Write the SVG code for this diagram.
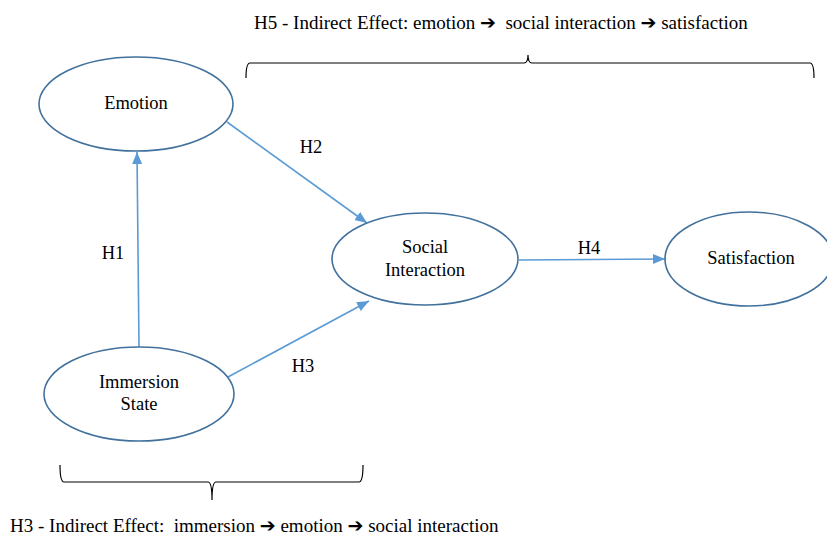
<svg xmlns="http://www.w3.org/2000/svg" width="827" height="535" viewBox="0 0 827 535">
<style>
  .node { fill: #ffffff; stroke: #41719C; stroke-width: 1.6; }
  .lbl { font-family: "Liberation Serif", "DejaVu Serif", serif; font-size: 18.5px; fill: #000; text-anchor: middle; }
  .note { font-family: "Liberation Serif", "DejaVu Sans", serif; font-size: 19px; fill: #000; }
  .ar { font-weight: bold; }
  .arr { stroke: #5B9BD5; stroke-width: 1.6; fill: none; marker-end: url(#ah); }
  .brace { stroke: #000; stroke-width: 1.2; fill: none; }
</style>
<defs>
  <marker id="ah" markerUnits="userSpaceOnUse" markerWidth="14" markerHeight="12" refX="12" refY="5" orient="auto">
    <path d="M0,0 L12,5 L0,10 Z" fill="#5B9BD5"/>
  </marker>
</defs>
<rect width="827" height="535" fill="#ffffff"/>

<g id="connectors">
  <line class="arr" x1="139" y1="347" x2="137" y2="152"/>
  <line class="arr" x1="227" y1="122" x2="367" y2="223"/>
  <line class="arr" x1="228" y1="377" x2="369" y2="301"/>
  <line class="arr" x1="519" y1="260" x2="665" y2="259"/>
  <text class="lbl" x="113" y="259">H1</text>
  <text class="lbl" x="311" y="153">H2</text>
  <text class="lbl" x="303" y="372">H3</text>
  <text class="lbl" x="589" y="254">H4</text>
</g>

<g id="emotion">
  <ellipse class="node" cx="136" cy="104" rx="97" ry="47"/>
  <text class="lbl" x="136" y="109">Emotion</text>
</g>
<g id="social-interaction">
  <ellipse class="node" cx="425" cy="259" rx="93" ry="46"/>
  <text class="lbl" x="425" y="253">Social</text>
  <text class="lbl" x="425" y="276">Interaction</text>
</g>
<g id="satisfaction">
  <ellipse class="node" cx="749" cy="259" rx="84" ry="47"/>
  <text class="lbl" x="751" y="264">Satisfaction</text>
</g>
<g id="immersion-state">
  <ellipse class="node" cx="139" cy="394" rx="95" ry="47"/>
  <text class="lbl" x="139" y="388">Immersion</text>
  <text class="lbl" x="139" y="410">State</text>
</g>

<g id="h5-brace">
  <path class="brace" d="M246,78 Q246,63 250,63 L524,63 Q528,63 528,55 Q528,63 532,63 L810,63 Q814,63 814,78"/>
  <text class="note" x="254" y="29" xml:space="preserve">H5 - Indirect Effect: emotion <tspan class="ar">➔</tspan>  social interaction <tspan class="ar">➔</tspan> satisfaction</text>
</g>
<g id="h3-brace">
  <path class="brace" d="M60,465 Q60,482 64,482 L208,482 Q212,482 212,500 Q212,482 216,482 L359,482 Q363,482 363,465"/>
  <text class="note" x="10" y="532" xml:space="preserve">H3 - Indirect Effect:  immersion <tspan class="ar">➔</tspan> emotion <tspan class="ar">➔</tspan> social interaction</text>
</g>
</svg>
